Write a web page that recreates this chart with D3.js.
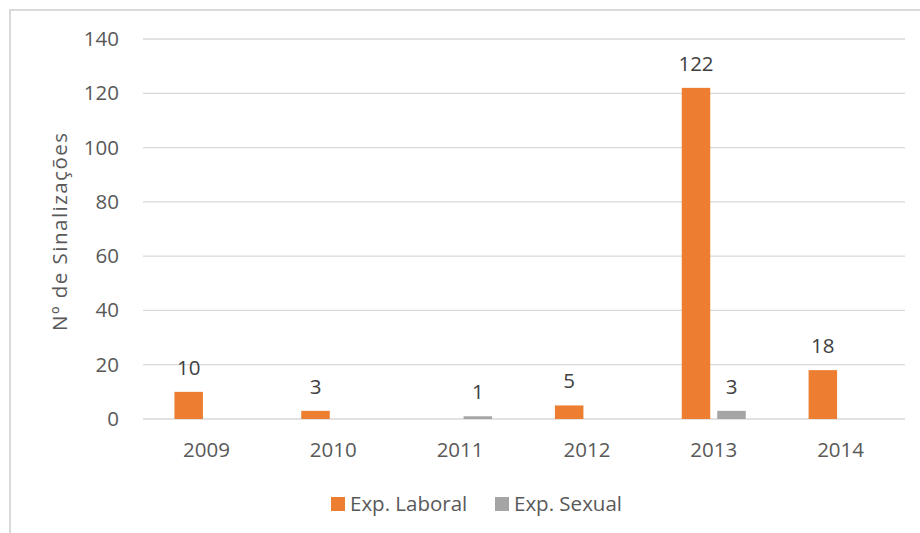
<!DOCTYPE html>
<html>
<head>
<meta charset="utf-8">
<script src="https://cdn.jsdelivr.net/npm/d3@7"></script>
<style>
  html, body { margin: 0; padding: 0; background: #fff; }
  svg { display: block; font-family: "Open Sans", sans-serif; }
</style>
</head>
<body>
<svg id="chart" width="920" height="533"></svg>
<script>
// Sinalizações por ano e tipo de exploração
const years = ["2009", "2010", "2011", "2012", "2013", "2014"];
const seriesNames = ["Exp. Laboral", "Exp. Sexual"];
const laboral = [10, 3, 0, 5, 122, 18];
const sexual = [0, 0, 1, 0, 3, 0];
const yTicks = [0, 20, 40, 60, 80, 100, 120, 140];
const colors = ["#ED7D31", "#A5A5A5"];

const seriesValues = [laboral, sexual];
const rows = years.map((y, i) => ({
  year: y,
  values: seriesNames.map((s, k) => ({ series: s, k, value: seriesValues[k][i] }))
}));

const svg = d3.select("#chart");

// Chart area frame
svg.append("rect")
  .attr("x", 10).attr("y", 10)
  .attr("width", 930).attr("height", 540)
  .attr("fill", "none")
  .attr("stroke", "#D9D9D9")
  .attr("stroke-width", 2);

const plot = { left: 143, right: 904, top: 39, bottom: 419 };

const x0 = d3.scaleBand().domain(years).range([plot.left, plot.right]);
const groupWidth = 64;
const x1 = d3.scaleBand().domain(seriesNames).range([0, groupWidth])
  .paddingInner(0.197).paddingOuter(0);
const y = d3.scaleLinear().domain([0, 140]).range([plot.bottom, plot.top]);

// Gridlines
svg.append("g")
  .selectAll("line")
  .data(yTicks)
  .join("line")
  .attr("x1", plot.left).attr("x2", plot.right + 1)
  .attr("y1", d => y(d)).attr("y2", d => y(d))
  .attr("stroke", "#D9D9D9")
  .attr("stroke-width", 1.3);

// Y axis labels
const yAxis = d3.axisLeft(y).tickValues(yTicks).tickSize(0).tickPadding(0);
const gy = svg.append("g")
  .attr("transform", `translate(${plot.left - 24},0)`)
  .call(yAxis);
gy.select(".domain").remove();
gy.selectAll("text")
  .attr("fill", "#595959")
  .style("font-size", "20.5px")
  .style("font-family", "'Open Sans', sans-serif");

// X axis labels
const xAxis = d3.axisBottom(x0).tickSize(0).tickPadding(0);
const gx = svg.append("g")
  .attr("transform", `translate(0,${plot.bottom + 23})`)
  .call(xAxis);
gx.select(".domain").remove();
gx.selectAll("text")
  .attr("fill", "#595959")
  .style("font-size", "20.5px")
  .style("font-family", "'Open Sans', sans-serif");

// Y axis title
svg.append("text")
  .attr("transform", `translate(67,${(plot.top + plot.bottom) / 2 + 3}) rotate(-90)`)
  .attr("text-anchor", "middle")
  .attr("fill", "#595959")
  .attr("textLength", 198)
  .attr("lengthAdjust", "spacing")
  .style("font-size", "20.5px")
  .text("Nº de Sinalizações");

// Bars
const groups = svg.append("g")
  .selectAll("g")
  .data(rows)
  .join("g")
  .attr("transform", d => `translate(${x0(d.year) + (x0.bandwidth() - groupWidth) / 2},0)`);

groups.selectAll("rect")
  .data(d => d.values)
  .join("rect")
  .attr("x", d => x1(d.series))
  .attr("width", x1.bandwidth())
  .attr("y", d => y(d.value))
  .attr("height", d => y(0) - y(d.value))
  .attr("fill", d => colors[d.k]);

// Value labels (non-zero values only)
groups.selectAll("text")
  .data(d => d.values.filter(v => v.value > 0))
  .join("text")
  .attr("x", d => x1(d.series) + x1.bandwidth() / 2)
  .attr("y", d => y(d.value) - 17)
  .attr("text-anchor", "middle")
  .attr("fill", "#404040")
  .style("font-size", "20.5px")
  .text(d => d.value);

// Legend
const legendItems = [
  { name: seriesNames[0], color: colors[0], x: 331 },
  { name: seriesNames[1], color: colors[1], x: 495 }
];
const legend = svg.append("g")
  .selectAll("g")
  .data(legendItems)
  .join("g")
  .attr("transform", d => `translate(${d.x},497)`);
legend.append("rect")
  .attr("width", 14).attr("height", 14)
  .attr("fill", d => d.color);
legend.append("text")
  .attr("x", 19).attr("y", 14)
  .attr("fill", "#595959")
  .style("font-size", "20.5px")
  .text(d => d.name);
</script>
</body>
</html>
